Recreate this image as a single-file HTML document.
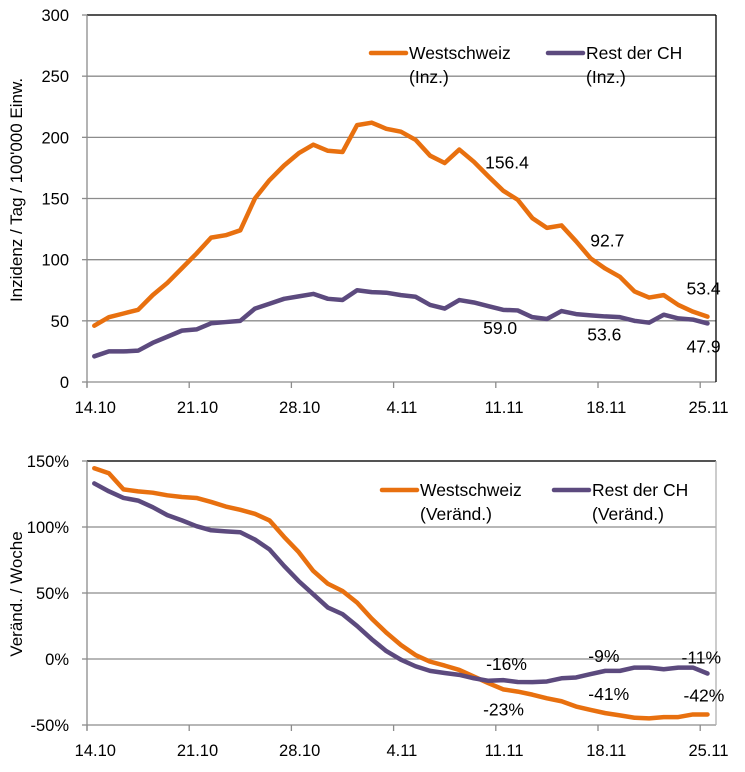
<!DOCTYPE html>
<html><head><meta charset="utf-8">
<style>
html,body{margin:0;padding:0;background:#fff;}
svg{display:block;font-family:"Liberation Sans",sans-serif;}
</style></head>
<body>
<svg id="c" width="745" height="772" viewBox="0 0 745 772"></svg>
<script>
const dates = ["14.10","21.10","28.10","4.11","11.11","18.11","25.11"];
const incWest = [46,53,56,59,71,81,93,105,118,120,124,150,165,177,187,194,189,188,210,212,207,204.6,198,185,179,190,180,168,156.4,149,134,126,128,115,101,92.7,86,74,69,71,63,57.5,53.4];
const incRest = [21,25,25,25.6,32,37,42,43,48,49,50,60,64,68,70,72,68,67,75,73.5,73,71,69.7,63,60,67,65,62,59.0,58.5,53,51.5,58,55.5,54.5,53.6,53,50,48.5,55,52,51,47.9];
const chgWest = [144.5,140.7,128.5,127,126,124,122.7,122,119,115.5,113,110,105,92.5,81,66.7,57,51.5,42.7,30.6,20,10.6,3,-2,-5,-8.3,-13.3,-18.3,-23,-24.7,-27,-29.8,-32,-36,-38.6,-41,-42.7,-44.5,-45,-44,-44,-42,-42];
const chgRest = [133,127,122,120,115,109,105,100.6,97.5,96.7,96,90.5,83,70.5,59,49,39,34,25,15,6,-0.5,-5.5,-9,-10.6,-12,-14.6,-16.5,-16,-17.4,-17.5,-17,-14.6,-14,-11.4,-9,-9,-6.5,-6.5,-7.8,-6.5,-6.5,-11];
const incTicks = [0,50,100,150,200,250,300];
const chgTicks = [-50,0,50,100,150];

const NS="http://www.w3.org/2000/svg";
const svg=document.getElementById('c');
function mk(tag,attrs,parent){const e=document.createElementNS(NS,tag);for(const k in attrs)e.setAttribute(k,attrs[k]);(parent||svg).appendChild(e);return e;}
const X0=87, DX=14.6;
const xPos=i=>X0+DX*(i+0.5);
const ORANGE="#e8700f", PURPLE="#5c4a7e";

function chart(cfg){
  const g=mk('g',{});
  
  
  const y=v=>cfg.yBase-(v-cfg.min)*cfg.scale;
  const yTop=y(cfg.ticks[cfg.ticks.length-1]);
  cfg.ticks.forEach(t=>{
    if(t!==cfg.min){const l=mk('line',{x1:X0,x2:716,y1:y(t),y2:y(t),stroke:'#8c8c8c','stroke-width':1.3},g);
    }
    const tx=mk('text',{x:69,y:y(t)+6,'text-anchor':'end','font-size':16.5,fill:'#000'},g);
    tx.textContent=cfg.fmt(t);
    
  });
  mk('line',{x1:X0,x2:716,y1:yTop,y2:yTop,stroke:'#000','stroke-width':1.3},g);
  mk('line',{x1:X0,x2:X0,y1:yTop,y2:y(cfg.min)+5,stroke:'#8c8c8c','stroke-width':1.3},g);
  cfg.ticks.forEach(t=>mk('line',{x1:X0-5,x2:X0,y1:y(t),y2:y(t),stroke:'#8c8c8c','stroke-width':1.3},g));
  mk('line',{x1:X0,x2:716,y1:y(cfg.min),y2:y(cfg.min),stroke:'#8c8c8c','stroke-width':1.3},g);
  mk('line',{x1:716,x2:716,y1:yTop,y2:y(cfg.min),stroke:cfg.rightColor,'stroke-width':1.3},g);
  dates.forEach((d,k)=>{
    const tx0=X0+DX*7*k;
    mk('line',{x1:tx0,x2:tx0,y1:y(cfg.min),y2:y(cfg.min)+6,stroke:'#8c8c8c','stroke-width':1.3},g);
    const t=mk('text',{x:xPos(7*k)+1,y:y(cfg.min)+31,'text-anchor':'middle','font-size':16.5},g);
    t.textContent=d;
    
  });
  const at=mk('text',{transform:`translate(${cfg.titleX},${cfg.titleY}) rotate(-90)`,'text-anchor':'middle','font-size':17},g);
  at.textContent=cfg.title;
  
  [[cfg.s1,ORANGE,'west'],[cfg.s2,PURPLE,'rest']].forEach(([s,col,nm])=>{
    const p=mk('polyline',{points:s.map((v,i)=>xPos(i)+','+y(v)).join(' '),fill:'none',stroke:col,'stroke-width':4.5,'stroke-linejoin':'round','stroke-linecap':'round'},g);
    
  });
  cfg.labels.forEach(([s,i,dx,dy,f])=>{
    const arr=s===1?cfg.s1:cfg.s2;
    const t=mk('text',{x:xPos(i)+dx,y:y(arr[i])+dy,'font-size':17.5},g);
    t.textContent=f(arr[i]);
    
  });
  cfg.legend.forEach(([lx,ly,col,l1,l2])=>{
    const lg=mk('g',{},g);
    
    mk('line',{x1:lx,x2:lx+35,y1:ly,y2:ly,stroke:col,'stroke-width':4.5,'stroke-linecap':'round'},lg);
    const a=mk('text',{x:lx+38,y:ly+6,'font-size':17.5},lg);a.textContent=l1;
    const b=mk('text',{x:lx+38,y:ly+30,'font-size':17.5},lg);b.textContent=l2;
  });
}
const f1=v=>v.toFixed(1), fp=v=>Math.round(v)+'%';
chart({name:'incidence-chart',yBase:382,min:0,scale:1.2233,ticks:incTicks,fmt:t=>String(t),
  s1:incWest,s2:incRest,title:'Inzidenz / Tag / 100\'000 Einw.',titleX:22,titleY:190,rightColor:'#000',
  labels:[[1,28,-18,-22,f1],[1,35,-15,-22,f1],[1,42,-21,-22,f1],[2,28,-20,24,f1],[2,35,-18,24,f1],[2,42,-21,29,f1]],
  legend:[[371,53,ORANGE,'Westschweiz','(Inz.)'],[548,53,PURPLE,'Rest der CH','(Inz.)']]});
chart({name:'change-chart',yBase:725,min:-50,scale:1.32,ticks:chgTicks,fmt:t=>t+'%',
  s1:chgWest,s2:chgRest,title:'Veränd. / Woche',titleX:22,titleY:594,rightColor:'#b0b0b0',
  labels:[[2,28,-17,-10,fp],[1,28,-20,26,fp],[2,35,-17,-9,fp],[1,35,-17,-13,fp],[2,42,-26,-10,fp],[1,42,-24,-13,fp]],
  legend:[[382,490,ORANGE,'Westschweiz','(Veränd.)'],[554,490,PURPLE,'Rest der CH','(Veränd.)']]});
</script>
</body></html>
